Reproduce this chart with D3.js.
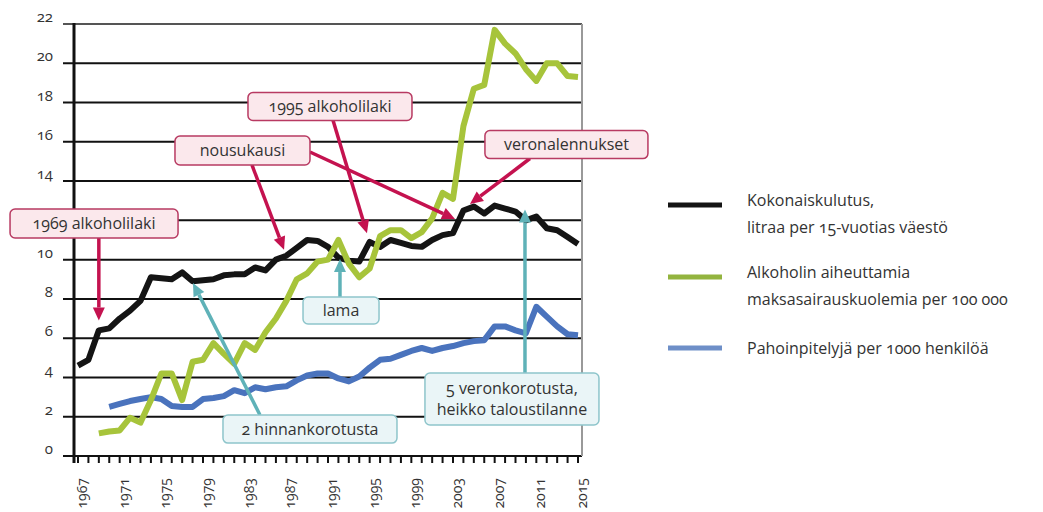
<!DOCTYPE html>
<html>
<head>
<meta charset="utf-8">
<script src="https://cdn.jsdelivr.net/npm/d3@7"></script>
<style>
  body { margin: 0; background: #fff; }
  svg { font-family: "Open Sans", "Noto Sans", sans-serif; font-variant-numeric: oldstyle-nums; }
</style>
</head>
<body>
<svg id="svg0" width="1043" height="512"></svg>
<script>
// data
var years = [1967,1968,1969,1970,1971,1972,1973,1974,1975,1976,1977,1978,1979,1980,1981,1982,1983,1984,1985,1986,
  1987,1988,1989,1990,1991,1992,1993,1994,1995,1996,1997,1998,1999,2000,2001,2002,2003,2004,2005,2006,
  2007,2008,2009,2010,2011,2012,2013,2014,2015];

// Kokonaiskulutus, litraa per 15-vuotias
var consumption = [4.6,4.9,6.4,6.5,7.0,7.4,7.9,9.1,9.05,9.0,9.35,8.9,8.95,9.0,9.2,9.25,9.25,9.6,9.45,10.0,
  10.2,10.6,11.0,10.95,10.65,10.1,9.95,9.9,10.9,10.65,11.0,10.85,10.7,10.65,11.0,11.25,11.35,12.5,12.7,12.35,
  12.75,12.6,12.45,12.0,12.2,11.6,11.5,11.15,10.8];

// maksasairauskuolemia per 100 000 (from 1969)
var liverDeaths = [null,null,1.15,1.25,1.3,1.95,1.7,2.85,4.2,4.2,2.85,4.8,4.9,5.75,5.2,4.7,5.75,5.4,6.3,7.0,
  7.9,9.0,9.3,9.9,10.0,11.0,9.8,9.1,9.55,11.2,11.5,11.5,11.1,11.4,12.1,13.4,13.1,16.8,18.7,18.9,
  21.7,21.0,20.5,19.7,19.1,20.0,20.0,19.35,19.3];

// Pahoinpitelyjä per 1000 (from 1970)
var assaults = [null,null,null,2.5,2.65,2.8,2.9,3.0,2.9,2.55,2.5,2.5,2.9,2.95,3.05,3.35,3.2,3.5,3.4,3.5,
  3.55,3.85,4.1,4.2,4.2,3.95,3.8,4.05,4.5,4.9,4.95,5.15,5.35,5.5,5.35,5.5,5.6,5.75,5.85,5.9,
  6.6,6.6,6.4,6.25,7.6,7.1,6.6,6.2,6.15];

var yTicks = [0,2,4,6,8,10,12,14,16,18,20,22];
var xTickLabels = ['1967','1971','1975','1979','1983','1987','1991','1995','1999','2003','2007','2011','2015'];

var legendLabels = [
  ['Kokonaiskulutus,', 'litraa per 15-vuotias väestö'],
  ['Alkoholin aiheuttamia', 'maksasairauskuolemia per 100 000'],
  ['Pahoinpitelyjä per 1000 henkilöä']
];

// annotations: box centre and arrow ends in data units
var notes = [
  {text: ['1969 alkoholilaki'], cx: 1968.54, cy: 11.84, w: 168, h: 29, kind: 'red',
    arrows: [[[1969.0, 11.1], [1969.0, 6.9]]]},
  {text: ['nousukausi'], cx: 1982.79, cy: 15.56, w: 135, h: 29, kind: 'red',
    arrows: [[[1983.7, 14.82], [1986.78, 10.5]], [[1989.27, 15.48], [2003.19, 12.07]]]},
  {text: ['1995 alkoholilaki'], cx: 1991.19, cy: 17.8, w: 164, h: 28, kind: 'red',
    arrows: [[[1991.48, 17.1], [1994.74, 11.35]]]},
  {text: ['veronalennukset'], cx: 2013.89, cy: 15.86, w: 163, h: 28, kind: 'red',
    arrows: [[[2010.39, 15.15], [2004.63, 12.83]]]},
  {text: ['lama'], cx: 1992.25, cy: 7.41, w: 76, h: 27, kind: 'teal',
    arrows: [[[1992.15, 8.1], [1992.15, 10.03]]]},
  {text: ['2 hinnankorotusta'], cx: 1989.27, cy: 1.37, w: 174, h: 28, kind: 'teal',
    arrows: [[[1984.47, 2.09], [1978.04, 8.81]]]},
  {text: ['5 veronkorotusta,', 'heikko taloustilanne'], cx: 2008.66, cy: 2.9, w: 174, h: 52, kind: 'teal',
    arrows: [[[2009.91, 4.23], [2009.91, 12.55]]]}
];

var colors = {black: '#141414', green: '#a7c43b', blue: '#4a73bd'};
var noteStyle = {
  red: {line: '#c4124f', fill: '#fbe8ec', stroke: '#b83a62'},
  teal: {line: '#5fb2b8', fill: '#eaf5f7', stroke: '#8ec5cb'}
};

var svg = d3.select('#svg0');

var x = d3.scaleLinear().domain([1967, 2015]).range([78, 578]);
var y = d3.scaleLinear().domain([0, 22]).range([456, 24]);

// grid lines
svg.append('g')
    .selectAll('line')
    .data(yTicks)
    .enter()
    .append('line')
    .attr('x1', 63)
    .attr('x2', 582)
    .attr('y1', function (d) { return y(d); })
    .attr('y2', function (d) { return y(d); })
    .attr('stroke', function (d) { return d == 22 ? '#555' : '#111'; })
    .attr('stroke-width', 2);

// the 12 label sits under the 1969 box in the original, so leave it out
svg.append('g')
    .selectAll('text')
    .data(yTicks.filter(function (d) { return d != 12; }))
    .enter()
    .append('text')
    .attr('x', 53)
    .attr('y', function (d) { return y(d) - 2; })
    .attr('text-anchor', 'end')
    .attr('font-size', 15)
    .attr('fill', '#333')
    .text(function (d) { return d; });

// right border
svg.append('line')
    .attr('x1', 582).attr('x2', 582)
    .attr('y1', y(22)).attr('y2', y(0))
    .attr('stroke', '#999')
    .attr('stroke-width', 2);

// left axis
svg.append('line')
    .attr('x1', 74).attr('x2', 74)
    .attr('y1', y(22) - 1).attr('y2', y(0) + 7)
    .attr('stroke', '#111')
    .attr('stroke-width', 3);

// x ticks
svg.append('g')
    .selectAll('line')
    .data(years)
    .enter()
    .append('line')
    .attr('x1', function (d) { return x(d); })
    .attr('x2', function (d) { return x(d); })
    .attr('y1', y(0))
    .attr('y2', y(0) + 7)
    .attr('stroke', '#111')
    .attr('stroke-width', 2);

svg.append('g')
    .selectAll('text')
    .data(xTickLabels)
    .enter()
    .append('text')
    .attr('transform', function (d) { return 'translate(' + (x(+d) + 4) + ',' + 478 + ') rotate(-90)'; })
    .attr('text-anchor', 'end')
    .attr('dy', '0.35em')
    .attr('font-size', 14)
    .attr('fill', '#333')
    .text(function (d) { return d; });

// lines
var line = d3.line()
    .defined(function (d) { return d[1] != null; })
    .x(function (d) { return x(d[0]); })
    .y(function (d) { return y(d[1]); });

function series(values) {
    return years.map(function (yr, i) { return [yr, values[i]]; });
}

[[assaults, colors.blue], [consumption, colors.black], [liverDeaths, colors.green]].forEach(function (s) {
    svg.append('path')
        .datum(series(s[0]))
        .attr('d', line)
        .attr('fill', 'none')
        .attr('stroke', s[1])
        .attr('stroke-width', 6)
        .attr('stroke-linejoin', 'round');
});

// annotations
function arrow(g, from, to, color) {
    var x0 = x(from[0]), y0 = y(from[1]), x1 = x(to[0]), y1 = y(to[1]);
    var ang = Math.atan2(y1 - y0, x1 - x0);
    var len = 13, half = 6;
    var bx = x1 - len * Math.cos(ang), by = y1 - len * Math.sin(ang);
    g.append('line')
        .attr('x1', x0).attr('y1', y0)
        .attr('x2', bx).attr('y2', by)
        .attr('stroke', color)
        .attr('stroke-width', 3.5);
    g.append('path')
        .attr('d', 'M' + x1 + ',' + y1 +
            'L' + (bx + half * Math.sin(ang)) + ',' + (by - half * Math.cos(ang)) +
            'L' + (bx - half * Math.sin(ang)) + ',' + (by + half * Math.cos(ang)) + 'Z')
        .attr('fill', color);
}

var noteG = svg.append('g');
notes.forEach(function (n) {
    var st = noteStyle[n.kind];
    n.arrows.forEach(function (a) { arrow(noteG, a[0], a[1], st.line); });
});
notes.forEach(function (n) {
    var st = noteStyle[n.kind];
    var cx = x(n.cx), cy = y(n.cy);
    noteG.append('rect')
        .attr('x', cx - n.w / 2)
        .attr('y', cy - n.h / 2)
        .attr('width', n.w)
        .attr('height', n.h)
        .attr('rx', 5)
        .attr('fill', st.fill)
        .attr('stroke', st.stroke)
        .attr('stroke-width', 1.5);
    n.text.forEach(function (t, i) {
        noteG.append('text')
            .attr('x', cx)
            .attr('y', cy + (i - (n.text.length - 1) / 2) * 21)
            .attr('dy', '0.35em')
            .attr('text-anchor', 'middle')
            .attr('font-size', 16)
            .attr('fill', '#333')
            .text(t);
    });
});

// legend
var legendY = [205, 277, 348];
var legendColors = [colors.black, '#93b43f', '#6e8fc8'];
legendLabels.forEach(function (lines, i) {
    svg.append('line')
        .attr('x1', 668).attr('x2', 722)
        .attr('y1', legendY[i]).attr('y2', legendY[i])
        .attr('stroke', legendColors[i])
        .attr('stroke-width', 5);
    lines.forEach(function (t, j) {
        svg.append('text')
            .attr('x', 747)
            .attr('y', legendY[i] - (lines.length - 1) * 5 + j * 27)
            .attr('dy', '0.35em')
            .attr('font-size', 16)
            .attr('fill', '#333')
            .text(t);
    });
});
</script>
</body>
</html>
